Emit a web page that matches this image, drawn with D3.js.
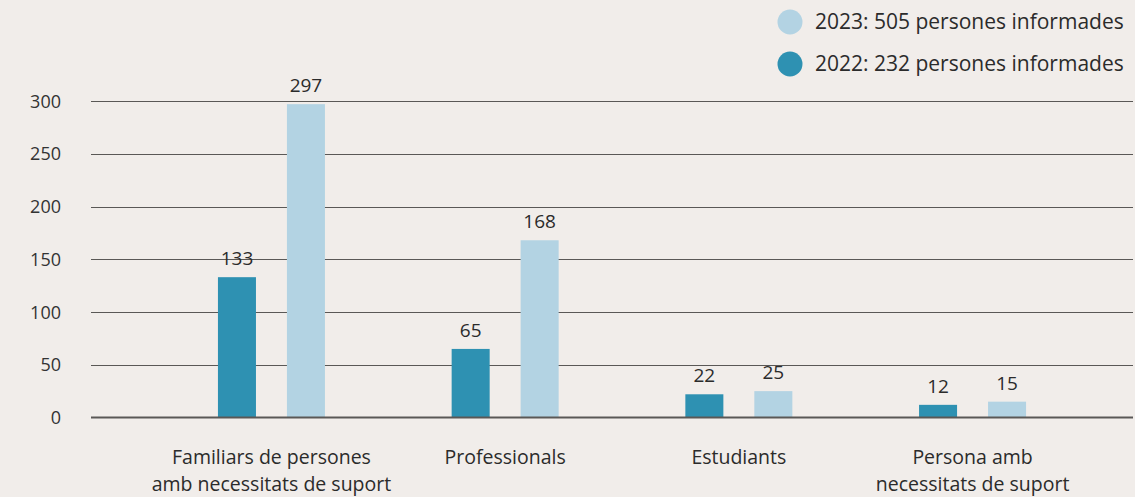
<!DOCTYPE html>
<html>
<head>
<meta charset="utf-8">
<script src="https://cdn.jsdelivr.net/npm/d3@7"></script>
<style>
  html, body { margin: 0; padding: 0; background: #f1edea; }
  svg { display: block; font-family: 'Open Sans', sans-serif; }
  .tick-label { font-size: 18px; fill: #333; }
  .value-label { font-size: 19px; fill: #2b2b2b; }
  .cat-label { font-size: 19.5px; fill: #2b2b2b; }
  .legend-label { font-size: 21px; fill: #2b2b2b; }
</style>
</head>
<body>
<svg id="chart" width="1135" height="497"></svg>
<script>
const categories = [
  ['Familiars de persones', 'amb necessitats de suport'],
  ['Professionals'],
  ['Estudiants'],
  ['Persona amb', 'necessitats de suport']
];
const years = ['2022', '2023'];
const values2022 = [133, 65, 22, 12];
const values2023 = [297, 168, 25, 15];
const yTicks = [0, 50, 100, 150, 200, 250, 300];
const legendItems = [
  { year: '2023', text: '2023: 505 persones informades' },
  { year: '2022', text: '2022: 232 persones informades' }
];

const COLORS = { '2022': '#2e91b2', '2023': '#b3d3e3' };

const width = 1135;
const height = 497;
const margin = { left: 91, right: 2, top: 101, bottom: 79 };

const svg = d3.select('#chart');

const catKeys = categories.map(c => c.join(' '));
const x0 = d3.scaleBand().domain(catKeys).range([154.6, 1089.4]);
const x1 = d3.scaleBand().domain(years).range([-53.5, 53.5]).paddingInner(0.449);
const y = d3.scaleLinear().domain([0, 300]).range([height - margin.bottom - 0.5, margin.top]);

// grid
svg.append('g').selectAll('line').data(yTicks.filter(t => t > 0)).join('line')
  .attr('x1', margin.left).attr('x2', width - margin.right)
  .attr('y1', d => Math.round(y(d)) + 0.5).attr('y2', d => Math.round(y(d)) + 0.5)
  .attr('stroke', '#5a5856').attr('stroke-width', 1);

svg.append('g').selectAll('text').data(yTicks).join('text')
  .attr('class', 'tick-label')
  .attr('x', 61).attr('y', d => y(d) + 6.5)
  .attr('text-anchor', 'end')
  .text(d => d);

// bars
const rows = catKeys.map((k, i) => ({ key: k, lines: categories[i], '2022': values2022[i], '2023': values2023[i] }));

const groups = svg.append('g').selectAll('g').data(rows).join('g')
  .attr('transform', d => `translate(${x0(d.key) + x0.bandwidth() / 2},0)`);

groups.selectAll('rect').data(d => years.map(yr => ({ yr, v: d[yr] }))).join('rect')
  .attr('x', d => x1(d.yr))
  .attr('width', x1.bandwidth())
  .attr('y', d => y(d.v))
  .attr('height', d => y(0) - y(d.v))
  .attr('fill', d => COLORS[d.yr]);

groups.selectAll('text.value-label').data(d => years.map(yr => ({ yr, v: d[yr] }))).join('text')
  .attr('class', 'value-label')
  .attr('x', d => x1(d.yr) + x1.bandwidth() / 2)
  .attr('y', d => y(d.v) - 12)
  .attr('text-anchor', 'middle')
  .text(d => d.v);

// baseline
svg.append('line')
  .attr('x1', margin.left).attr('x2', width - margin.right)
  .attr('y1', y(0)).attr('y2', y(0))
  .attr('stroke', '#5a5856').attr('stroke-width', 2);

// category labels
groups.append('text')
  .attr('class', 'cat-label')
  .attr('text-anchor', 'middle')
  .selectAll('tspan').data(d => d.lines).join('tspan')
  .attr('x', 0)
  .attr('y', (d, i) => 464 + i * 27)
  .text(d => d);

// legend
const legend = svg.append('g').selectAll('g').data(legendItems).join('g')
  .attr('transform', (d, i) => `translate(790,${22 + i * 42})`);
legend.append('circle').attr('r', 12.5).attr('fill', d => COLORS[d.year]);
legend.append('text').attr('class', 'legend-label')
  .attr('x', 25).attr('y', 7)
  .text(d => d.text);
</script>
</body>
</html>
